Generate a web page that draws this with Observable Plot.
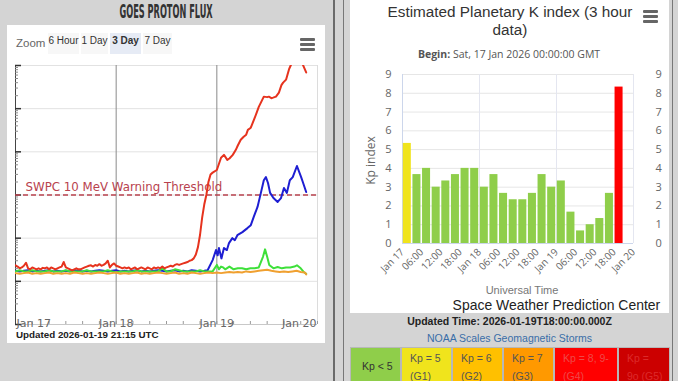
<!DOCTYPE html>
<html>
<head>
<meta charset="utf-8">
<script src="https://cdn.jsdelivr.net/npm/d3@7"></script>
<script src="https://cdn.jsdelivr.net/npm/@observablehq/plot@0.6"></script>
<style>
html,body{margin:0;padding:0;}
body{width:678px;height:381px;overflow:hidden;position:relative;background:#d4d4d4;font-family:"Liberation Sans",Arial,sans-serif;}
.a{position:absolute;}
.burger{position:absolute;width:15px;}
.burger div{height:2.5px;background:#666;margin-bottom:2.5px;border-radius:1px;}
.btn{position:absolute;top:33px;height:21px;background:#f7f7f7;font-size:10px;color:#333;text-align:center;line-height:16px;white-space:nowrap;font-family:"Liberation Sans",Arial,sans-serif;}
.cell{position:absolute;top:347px;height:40px;font-size:10.5px;line-height:18px;padding:1px 0 0 8px;box-sizing:border-box;border:1px solid #b8b8b8;}
</style>
</head>
<body>
<!-- left panel -->
<div class="a" style="left:0;top:0;width:333px;height:24px;text-align:center;line-height:23px;color:#333;">
  <span style="display:inline-block;transform:scaleX(0.48);font-family:'DejaVu Sans Condensed','DejaVu Sans';font-weight:bold;font-size:19px;white-space:nowrap;">GOES PROTON FLUX</span>
</div>
<div class="a" style="left:333px;top:0;width:1.5px;height:381px;background:#6a6a6a;"></div>
<div class="a" style="left:7px;top:25px;width:318px;height:318px;background:#fff;"></div>
<div class="a" style="left:16px;top:37px;font-size:11.5px;line-height:13px;color:#666;">Zoom</div>
<div class="btn" style="left:48px;width:31px;">6 Hour</div>
<div class="btn" style="left:81px;width:27px;">1 Day</div>
<div class="btn" style="left:110px;width:31px;background:#e6ebf5;font-weight:bold;">3 Day</div>
<div class="btn" style="left:143px;width:29px;">7 Day</div>
<div class="burger" style="left:300px;top:38px;"><div></div><div></div><div></div></div>
<div id="leftChart" class="a" style="left:7px;top:60px;"></div>
<div class="a" style="left:16px;top:329px;font-size:9.8px;font-weight:bold;color:#222;">Updated 2026-01-19 21:15 UTC</div>

<!-- right panel -->
<div class="a" style="left:343px;top:-2px;width:328px;height:390px;border-left:1.5px solid #777;border-right:1.5px solid #777;"></div>
<div class="a" style="left:350px;top:0;width:319px;height:313px;background:#fff;"></div>
<div class="a" style="left:380px;top:3px;width:260px;text-align:center;font-family:'Liberation Sans',Arial,sans-serif;font-size:15.3px;line-height:17.6px;color:#333;white-space:nowrap;">Estimated Planetary K index (3 hour<br>data)</div>
<div class="burger" style="left:643px;top:10px;"><div></div><div></div><div></div></div>
<div class="a" style="left:350px;top:47px;width:318px;text-align:center;font-family:'Open Sans',sans-serif;font-size:10.5px;line-height:14px;color:#555;"><b>Begin:</b> Sat, 17 Jan 2026 00:00:00 GMT</div>
<div class="a" style="left:340px;top:152px;width:60px;text-align:center;transform:rotate(-90deg);font-family:'Open Sans',sans-serif;font-size:12px;color:#666;">Kp index</div>
<div id="rightChart" class="a" style="left:349px;top:62px;"></div>
<div class="a" style="left:472px;top:284px;width:100px;text-align:center;font-size:11px;line-height:12px;color:#777;">Universal Time</div>
<div class="a" style="left:400px;top:297px;width:260px;text-align:right;font-size:15px;line-height:16px;color:#222;white-space:nowrap;"><span style="display:inline-block;transform:scaleX(0.93);transform-origin:right center;">Space Weather Prediction Center</span></div>
<div class="a" style="left:350px;top:315px;width:319px;text-align:center;font-size:10.5px;line-height:12px;font-weight:bold;color:#222;">Updated Time: 2026-01-19T18:00:00.000Z</div>
<div class="a" style="left:350px;top:332px;width:319px;text-align:center;font-size:10.5px;line-height:12px;color:#3a6ea8;">NOAA Scales Geomagnetic Storms</div>
<div id="legend"></div>

<script>
// ---------- data: GOES proton flux (pfu), hours since 2026-01-17 00:00 UTC ----------
const redHours = [0,0.5,1,1.5,2,2.5,3,3.5,4,4.5,5,5.5,6,6.5,7,7.5,8,8.5,9,9.5,10,10.5,11,11.5,12,12.5,13,13.5,14,14.5,
  15,15.5,16,16.5,17,17.5,18,18.5,19,19.5,20,20.5,21,21.5,22,22.5,23,23.5,24,24.5,25,25.5,26,26.5,27,27.5,28,28.5,29,29.5,
  30,30.5,31,31.5,32,32.5,33,33.5,34,34.5,35,35.5,36,36.5,37,37.5,38,38.5,39,39.5,40,40.5,41,41.5,42,42.5,
  43,43.5,44,44.5,45,45.5,46,46.5,47,48,49,49.7,50.5,51,51.8,52.5,53,53.7,54.4,55,55.4,56.1,57,57.5,58,58.5,59.2,60,60.4,
  61,61.4,62.1,62.8,63.4,63.8,64.5,65.2,65.6,66.1,67,68,68.5,69.3];
const redFlux = [0.235,0.22,0.20,0.21,0.23,0.27,0.20,0.19,0.21,0.20,0.19,0.20,0.19,0.205,0.20,0.21,0.19,0.21,0.20,0.19,
  0.20,0.21,0.22,0.28,0.21,0.20,0.19,0.18,0.19,0.20,0.19,0.19,0.20,0.21,0.22,0.23,0.235,0.22,0.24,0.23,
  0.25,0.23,0.24,0.26,0.30,0.21,0.24,0.26,0.23,0.22,0.21,0.20,0.21,0.20,0.21,0.19,0.20,0.21,0.19,0.20,
  0.21,0.20,0.19,0.21,0.20,0.19,0.21,0.20,0.21,0.20,0.22,0.20,0.21,0.22,0.23,0.22,0.24,0.25,0.24,0.25,
  0.26,0.27,0.28,0.30,0.31,0.34,
  0.42,0.62,1.2,3,6,10,20,30,33,38,73,85,65,70,85,110,140,190,224,250,323,362,600,810,1100,1380,1900,1850,1900,
  1750,1800,1900,2350,3500,4000,4700,8100,10000,12000,15000,14000,10500,6900];

const blueHours = [0,1,2,3,4,5,6,7,8,9,10,11,12,13,14,15,16,17,18,19,20,21,22,23,24,25,26,27,28,29,30,31,32,33,34,35,36,37,38,39,40,41,42,43,44,45,
  45.8,47.0,47.8,48.2,48.5,49.1,49.7,50.4,50.9,51.7,52.3,52.9,54.1,55.3,56.1,56.8,57.7,58.5,59.2,59.7,60.2,60.7,61.5,62.5,63.3,64.0,64.7,65.4,66.1,67.1,68.1,68.5,69.3];
const blueFlux = [0.175,0.17,0.175,0.18,0.17,0.175,0.17,0.175,0.18,0.17,0.175,0.17,0.175,0.17,0.18,0.175,0.17,0.175,0.17,0.175,
  0.18,0.175,0.17,0.175,0.18,0.17,0.175,0.17,0.175,0.18,0.17,0.175,0.17,0.175,0.18,0.175,0.17,0.175,0.18,0.17,0.175,0.17,0.18,0.175,0.17,0.175,
  0.18,0.31,0.53,0.40,0.59,0.34,0.59,0.53,0.77,1.0,0.90,1.17,1.38,1.71,2.0,3.1,5.3,11.2,22,26,19,11.2,8.5,6.9,8.5,14.5,11.2,22,26,47,26,20,11.7];

const greenHours = [0,1,2,3,4,5,6,7,8,9,10,11,12,13,14,15,16,17,18,19,20,21,22,23,24,25,26,27,28,29,30,31,32,33,34,35,36,37,38,39,40,41,42,43,44,45,46,47,
  48,48.5,49,49.5,50,51,52,53,54,55,56,57,58,58.5,59,59.5,60,60.5,61.5,62.5,63.5,64.5,65.5,66.5,67.1,68,68.7,69.3];
const greenFlux = [0.17,0.18,0.17,0.17,0.18,0.17,0.17,0.17,0.18,0.17,0.17,0.17,0.18,0.17,0.17,0.17,0.17,0.18,0.17,0.17,
  0.17,0.17,0.18,0.17,0.16,0.17,0.17,0.17,0.17,0.18,0.17,0.17,0.17,0.17,0.17,0.20,0.17,0.17,0.19,0.18,0.17,0.17,0.17,0.17,0.18,0.17,0.17,0.17,
  0.24,0.19,0.22,0.21,0.19,0.22,0.19,0.20,0.20,0.19,0.20,0.20,0.21,0.28,0.37,0.55,0.37,0.24,0.20,0.215,0.20,0.21,0.21,0.22,0.235,0.20,0.165,0.15];

const orangeHours = [0,1,2,3,4,5,6,7,8,9,10,11,12,13,14,15,16,17,18,19,20,21,22,23,24,25,26,27,28,29,30,31,32,33,34,
  35,36,37,38,39,40,41,42,43,44,45,46,47,48,49,50,51,52,53,54,55,56,57,58,59,60,61,62,63,64,65,66,67,68,69,69.3];
const orangeFlux = [0.155,0.15,0.155,0.16,0.15,0.155,0.15,0.155,0.16,0.15,
  0.155,0.15,0.155,0.15,0.16,0.155,0.15,0.155,0.15,0.155,
  0.16,0.155,0.15,0.155,0.16,0.15,0.155,0.15,0.155,0.16,
  0.15,0.155,0.15,0.155,0.16,0.155,0.15,0.155,0.16,0.15,
  0.155,0.15,0.16,0.155,0.15,0.155,0.16,0.155,0.16,0.155,
  0.16,0.165,0.16,0.165,0.16,0.17,0.165,0.17,0.175,0.18,
  0.185,0.175,0.17,0.165,0.17,0.165,0.17,0.175,0.165,0.16,0.145];

const fluxDecades = [0.01,0.1,1,10,100,1000,10000];
const thresholdValue = 10;
const thresholdLabel = "SWPC 10 MeV Warning Threshold";
const dayHours = [0,24,48,72];
const minorTickHours = [0,4,8,12,16,20,24,28,32,36,40,44,48,52,56,60,64,68,72];

// ---------- data: Estimated Kp (3-hour blocks) ----------
const kpHours = [0,3,6,9,12,15,18,21,24,27,30,33,36,39,42,45,48,51,54,57,60,63,66];
const kpValues = [5.33,3.67,4,3,3.33,3.67,4,4,3,3.67,2.67,2.33,2.33,2.67,3.67,3,3.33,1.67,0.67,1,1.33,2.67,8.33];
const kpTicks = [0,1,2,3,4,5,6,7,8,9];
const kpLabelHours = [0,6,12,18,24,30,36,42,48,54,60,66,72];
const stormLabels = ["Kp &lt; 5","Kp = 5<br>(G1)","Kp = 6<br>(G2)","Kp = 7<br>(G3)","Kp = 8, 9-<br>(G4)","Kp =<br>9o (G5)"];

// ---------- helpers ----------
const T0 = Date.UTC(2026, 0, 17);
const at = h => new Date(T0 + h * 3600e3);
const rows = (hs, vs) => hs.map((h, i) => ({t: at(h), v: vs[i]}));
const fluxMinor = fluxDecades.slice(0, -1).flatMap(d => [2,3,4,5,6,7,8,9].map(m => m * d));

const kpPalette = ["#8fce4a", "#f0e41c", "#ffc000", "#ff9900", "#ff0000", "#cc0000"];
const kpTextColors = ["#333", "#555", "#555", "#555", "#f04848", "#dd2a2a"];

// ---------- left chart: GOES proton flux ----------
const labelFont = {fontFamily: "DejaVu Sans", fontSize: 11, fill: "#666"};
const left = Plot.plot({
  width: 318, height: 272,
  marginLeft: 8, marginRight: 8, marginTop: 5, marginBottom: 8,
  style: {background: "transparent", overflow: "visible"},
  x: {type: "utc", domain: [at(0), at(72)], label: null},
  y: {type: "log", domain: [0.01, 10000], label: null},
  marks: [
    Plot.ruleY(fluxDecades.slice(1), {stroke: "#e2e2e2"}),
    Plot.ruleX([at(72)], {stroke: "#dcdcdc"}),
    Plot.ruleY([0.01], {stroke: "#c8c8c8"}),
    Plot.ruleX(dayHours.slice(1, 3).map(at), {stroke: "#8a8a8a"}),
    Plot.axisX({ticks: minorTickHours.map(at), tickSize: 3, dy: -3, tickFormat: () => "", stroke: "#9a9a9a", label: null}),
    Plot.ruleX([at(0)], {stroke: "#444"}),
    Plot.axisY({ticks: fluxMinor, tickSize: 3, dx: 3, tickFormat: () => "", stroke: "#8a8a8a", label: null}),
    Plot.axisY({ticks: fluxDecades, tickSize: 6, dx: 6, tickFormat: () => "", stroke: "#333", strokeWidth: 1.5, label: null}),
    Plot.ruleY([thresholdValue], {stroke: "#b8424e", strokeWidth: 1.5, strokeDasharray: "5,3"}),
    Plot.text([{label: thresholdLabel, v: thresholdValue}], {text: "label", y: "v", frameAnchor: "left", textAnchor: "start", dx: 10, dy: -8, fill: "#b8424e", fontSize: 11.8, fontFamily: "DejaVu Sans"}),
    Plot.line(rows(blueHours, blueFlux), {x: "t", y: "v", stroke: "#1e1ed2", strokeWidth: 2, clip: true}),
    Plot.line(rows(greenHours, greenFlux), {x: "t", y: "v", stroke: "#3ee03a", strokeWidth: 2, clip: true}),
    Plot.line(rows(orangeHours, orangeFlux), {x: "t", y: "v", stroke: "#f0a030", strokeWidth: 2, clip: true}),
    Plot.line(rows(redHours, redFlux), {x: "t", y: "v", stroke: "#e6331e", strokeWidth: 2, clip: true}),
    Plot.text([at(dayHours[0])], {x: d => d, text: d3.utcFormat("%b %d"), frameAnchor: "bottom", textAnchor: "start", lineAnchor: "bottom", dx: 1, dy: 2, ...labelFont}),
    Plot.text(dayHours.slice(1, 3).map(at), {x: d => d, text: d3.utcFormat("%b %d"), frameAnchor: "bottom", textAnchor: "middle", lineAnchor: "bottom", dy: 2, ...labelFont}),
    Plot.text([at(dayHours[3])], {x: d => d, text: d3.utcFormat("%b %d"), frameAnchor: "bottom", textAnchor: "end", lineAnchor: "bottom", dx: -1, dy: 2, ...labelFont})
  ]
});
document.getElementById("leftChart").append(left);

// ---------- right chart: Kp index ----------
const kpRows = kpHours.map((h, i) => ({t1: at(h), t2: at(h + 3), kp: kpValues[i]}));
const fmtKp = d => d.getUTCHours() === 0 ? d3.utcFormat("%b %d")(d) : d3.utcFormat("%H:%M")(d);
const right = Plot.plot({
  width: 320, height: 238,
  marginLeft: 53, marginRight: 36, marginTop: 12, marginBottom: 57,
  style: {background: "transparent", fontFamily: "Open Sans", overflow: "visible"},
  x: {type: "utc", domain: [at(0), at(72)], label: null},
  y: {domain: [0, 9], label: null},
  color: {type: "threshold", domain: [5, 6, 7, 8, 9], range: kpPalette},
  marks: [
    Plot.ruleY(kpTicks.slice(1), {stroke: "#e6e6e6"}),
    Plot.ruleX(dayHours.slice(1).map(at), {stroke: "#e4e6f0"}),
    Plot.ruleX([at(0)], {stroke: "#ccd6eb"}),
    Plot.rectY(kpRows, {x1: "t1", x2: "t2", y: "kp", fill: "kp", insetLeft: 0.8, insetRight: 0.8}),
    Plot.ruleY([0], {stroke: "#ccd6eb"}),
    Plot.axisY({anchor: "left", ticks: kpTicks, tickSize: 0, tickPadding: 11, fill: "#666", fontSize: 11, label: null}),
    Plot.axisY({anchor: "right", ticks: kpTicks, tickSize: 0, tickPadding: 22, fill: "#666", fontSize: 11, label: null}),
    Plot.axisX({ticks: kpLabelHours.map(at), tickRotate: -45, tickSize: 0, tickPadding: 7, tickFormat: fmtKp, fill: "#666", fontSize: 10, label: null})
  ]
});
document.getElementById("rightChart").append(right);

// ---------- NOAA scale legend ----------
const cellLefts = [350, 401, 452, 503, 554, 618];
const cellWidths = [51, 51, 51, 51, 64, 52];
const legend = document.getElementById("legend");
stormLabels.forEach((lab, i) => {
  const c = document.createElement("div");
  c.className = "cell";
  c.style.left = cellLefts[i] + "px";
  c.style.width = cellWidths[i] + "px";
  c.style.background = kpPalette[i];
  c.style.color = kpTextColors[i];
  if (i === 0) { c.style.paddingLeft = "11px"; c.style.paddingTop = "9px"; }
  c.innerHTML = lab;
  legend.append(c);
});
</script>
</body>
</html>
